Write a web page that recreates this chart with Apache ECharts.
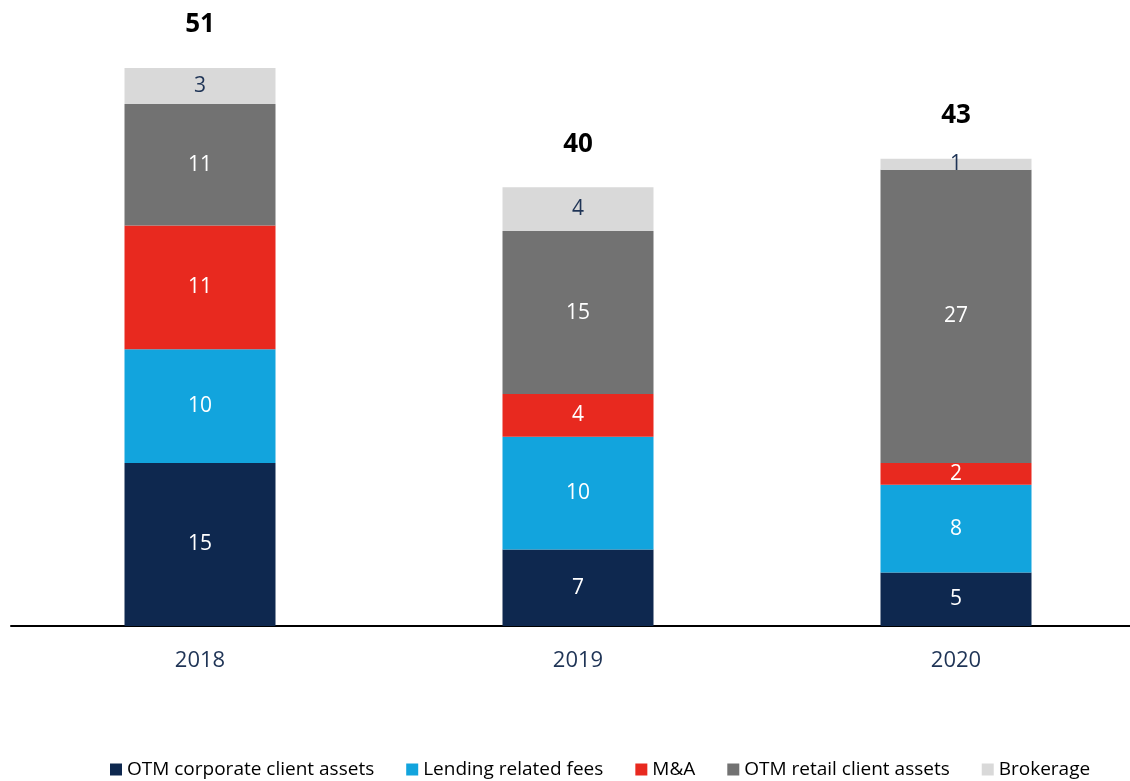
<!DOCTYPE html>
<html>
<head>
<meta charset="utf-8">
<script src="https://cdn.jsdelivr.net/npm/echarts@6/dist/echarts.min.js"></script>
<style>
  html, body { margin: 0; padding: 0; background: #fff; overflow: hidden; }
  #main { width: 1160px; height: 781px; }
</style>
</head>
<body>
<div id="main"></div>
<script>
// data
var years = ['2018', '2019', '2020'];
var corporate = [14.9, 7.0, 4.9];
var lending = [10.4, 10.3, 8.0];
var mna = [11.3, 3.9, 2.0];
var retail = [11.1, 14.9, 26.8];
var brokerage = [3.3, 4.0, 1.0];
var totals = [51, 40, 43];

var FONT = "'Open Sans', sans-serif";

function seg(name, data, color, labelColor) {
    return {
        name: name,
        type: 'bar',
        stack: 'total',
        barWidth: 151,
        data: data,
        itemStyle: { color: color },
        label: {
            show: true,
            position: 'inside',
            color: labelColor,
            fontSize: 21,
            fontFamily: FONT,
            formatter: function (p) { return Math.round(p.value); }
        }
    };
}

var chart = echarts.init(document.getElementById('main'));
chart.setOption({
    animation: false,
    textStyle: { fontFamily: FONT },
    // chart is a bit wider than the window, the axis line runs off the right edge
    grid: { left: 11, top: 68, width: 1134, height: 558 },
    legend: {
        bottom: -3,
        left: 105,
        itemWidth: 12,
        itemHeight: 12,
        itemGap: 32,
        icon: 'rect',
        textStyle: { fontSize: 19, color: '#000', fontFamily: FONT },
        data: ['OTM corporate client assets', 'Lending related fees', 'M&A', 'OTM retail client assets', 'Brokerage']
    },
    xAxis: {
        type: 'category',
        data: years,
        axisTick: { show: false },
        axisLine: { lineStyle: { color: '#000', width: 2 } },
        axisLabel: { fontSize: 22, color: '#1F3456', margin: 24, fontFamily: FONT }
    },
    yAxis: {
        type: 'value',
        min: 0,
        max: 51,
        show: false,
        splitLine: { show: false }
    },
    series: [
        seg('OTM corporate client assets', corporate, '#0E284F', '#fff'),
        seg('Lending related fees', lending, '#12A4DD', '#fff'),
        seg('M&A', mna, '#E8291F', '#fff'),
        seg('OTM retail client assets', retail, '#727272', '#fff'),
        seg('Brokerage', brokerage, '#D9D9D9', '#1F3456'),
        {
            name: 'Total',
            type: 'bar',
            stack: 'total',
            barWidth: 151,
            data: [0, 0, 0],
            itemStyle: { color: 'transparent' },
            label: {
                show: true,
                position: 'top',
                distance: 30,
                color: '#000',
                fontSize: 26,
                fontWeight: 'bold',
                fontFamily: FONT,
                formatter: function (p) { return totals[p.dataIndex]; }
            }
        }
    ]
});
</script>
</body>
</html>
